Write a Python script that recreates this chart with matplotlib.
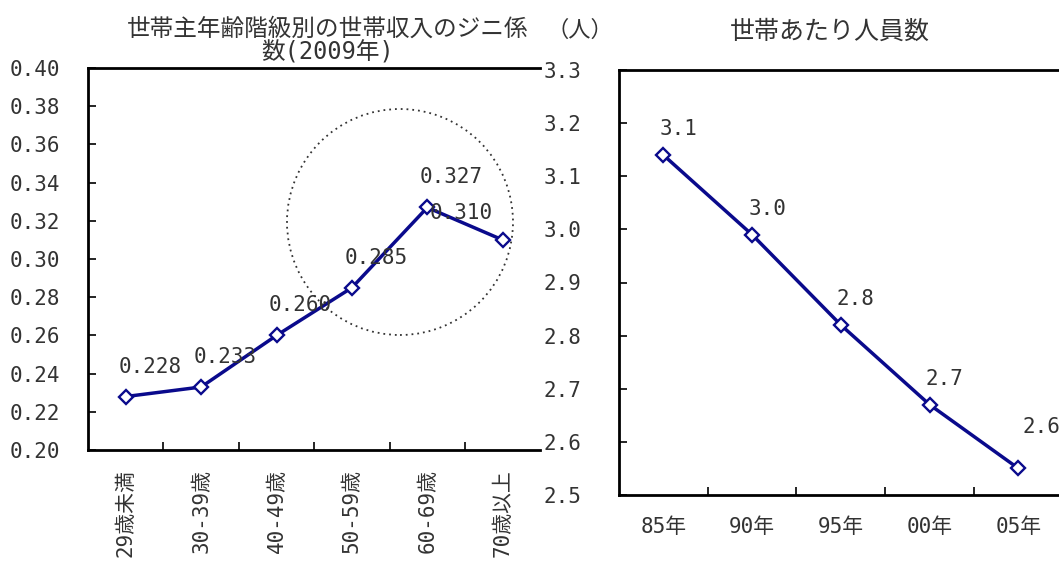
import matplotlib
matplotlib.use('Agg')
from matplotlib import pyplot as plt
from matplotlib import patches

plt.rcParams['font.family'] = ['DejaVu Sans Mono', 'Noto Sans CJK JP']

# データ
age_labels = ['29歳未満', '30-39歳', '40-49歳', '50-59歳', '60-69歳', '70歳以上']
gini = [0.228, 0.233, 0.260, 0.285, 0.327, 0.310]
gini_ticks = [0.20, 0.22, 0.24, 0.26, 0.28, 0.30, 0.32, 0.34, 0.36, 0.38, 0.40]

year_labels = ['85年', '90年', '95年', '00年', '05年']
members = [3.14, 2.99, 2.82, 2.67, 2.55]
member_text = ['3.1', '3.0', '2.8', '2.7', '2.6']
member_ticks = [2.5, 2.6, 2.7, 2.8, 2.9, 3.0, 3.1, 3.2, 3.3]

navy = '#0a0a8c'
txt = '#333333'
fig = plt.figure(figsize=(10.59, 5.65), dpi=100)

# 左: ジニ係数
ax1 = fig.add_axes([0.0831, 0.2035, 0.4272, 0.676])
x1 = list(range(len(gini)))
ax1.plot(x1, gini, color=navy, lw=2.5, marker='D', ms=7.5,
         mfc='white', mec=navy, mew=1.7, zorder=3)
for i, v in enumerate(gini):
    dx, dy = (-42, 27) if i == 5 else (24, 30)
    ax1.annotate(f'{v:.3f}', (i, v), xytext=(dx, dy), textcoords='offset pixels',
                 ha='center', va='center', fontsize=15, color=txt, zorder=4)
ax1.set_xlim(-0.5, len(gini) - 0.5)
ax1.set_ylim(0.20, 0.40)
ax1.set_yticks(gini_ticks)
ax1.set_yticklabels([f'{t:.2f}' for t in gini_ticks], fontsize=15, color=txt)
ax1.set_xticks([i + 0.5 for i in range(len(gini) - 1)])
ax1.set_xticklabels([])
for i, lab in enumerate(age_labels):
    ax1.text(i, -0.05, lab, transform=ax1.get_xaxis_transform(), rotation=90,
             ha='center', va='top', fontsize=15, color=txt)
ax1.tick_params(direction='in', length=6, width=1.2, pad=20)
ax1.spines['right'].set_visible(False)
for s in ['left', 'top', 'bottom']:
    ax1.spines[s].set_linewidth(2)
ax1.set_title('世帯主年齢階級別の世帯収入のジニ係\n数(2009年)', fontsize=17,
              linespacing=1.0, pad=6, x=0.53, color=txt)

# 点線の円
circ = patches.Ellipse((400, 565 - 222), 226, 226, transform=None, fill=False,
                       ls=(0, (1, 2.2)), lw=1.3, edgecolor='#333333', zorder=2)
fig.patches.append(circ)

# 右: 世帯あたり人員数
ax2 = fig.add_axes([0.5845, 0.124, 0.419, 0.752])
x2 = list(range(len(members)))
ax2.plot(x2, members, color=navy, lw=2.5, marker='D', ms=7.5,
         mfc='white', mec=navy, mew=1.7, zorder=3)
for i, v in enumerate(members):
    dx, dy = (23, 41) if i == 4 else (15, 26)
    ax2.annotate(member_text[i], (i, v), xytext=(dx, dy), textcoords='offset pixels',
                 ha='center', va='center', fontsize=15, color=txt)
ax2.set_xlim(-0.5, len(members) - 0.5)
ax2.set_ylim(2.5, 3.3)
ax2.set_yticks(member_ticks)
ax2.set_yticklabels([f'{t:.1f}' for t in member_ticks], fontsize=15, color=txt)
ax2.set_xticks([i + 0.5 for i in range(len(members) - 1)])
ax2.set_xticklabels([])
for i, lab in enumerate(year_labels):
    ax2.text(i, -0.075, lab, transform=ax2.get_xaxis_transform(),
             ha='center', va='center', fontsize=15, color=txt)
ax2.tick_params(direction='in', length=6, width=1.2, pad=27)
ax2.spines['right'].set_visible(False)
for s in ['left', 'top', 'bottom']:
    ax2.spines[s].set_linewidth(2)
fig.text(830 / 1059, 1 - 32 / 565, '世帯あたり人員数', ha='center', va='center',
         fontsize=18, color=txt)
fig.text(580 / 1059, 1 - 30 / 565, '（人）', ha='center', va='center', fontsize=16,
         color=txt)

fig.savefig('out.png', dpi=100)
